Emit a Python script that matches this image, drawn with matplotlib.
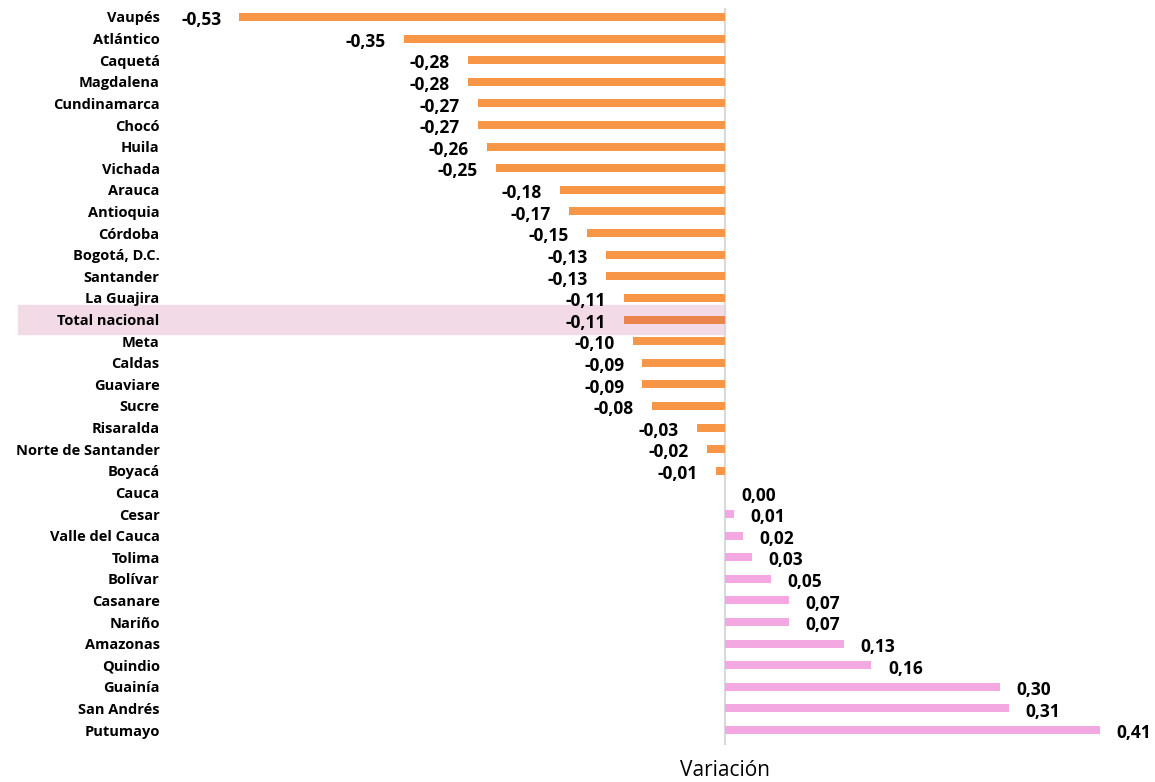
import numpy as np
import matplotlib.pyplot as plt

regiones = ["Vaupés", "Atlántico", "Caquetá", "Magdalena", "Cundinamarca", "Chocó",
            "Huila", "Vichada", "Arauca", "Antioquia", "Córdoba", "Bogotá, D.C.",
            "Santander", "La Guajira", "Total nacional", "Meta", "Caldas", "Guaviare",
            "Sucre", "Risaralda", "Norte de Santander", "Boyacá", "Cauca", "Cesar",
            "Valle del Cauca", "Tolima", "Bolívar", "Casanare", "Nariño", "Amazonas",
            "Quindio", "Guainía", "San Andrés", "Putumayo"]
variacion = [-0.53, -0.35, -0.28, -0.28, -0.27, -0.27, -0.26, -0.25, -0.18, -0.17,
             -0.15, -0.13, -0.13, -0.11, -0.11, -0.10, -0.09, -0.09, -0.08, -0.03,
             -0.02, -0.01, 0.00, 0.01, 0.02, 0.03, 0.05, 0.07, 0.07, 0.13, 0.16,
             0.30, 0.31, 0.41]

def main():
    plt.rcParams['font.family'] = ['Open Sans', 'DejaVu Sans']
    fig = plt.figure(figsize=(11.55, 7.82), dpi=100)
    ax = fig.add_axes([0.1455, 0.0473, 0.85, 0.9425])

    y = np.arange(len(regiones))
    colores = []
    for r, v in zip(regiones, variacion):
        if r == "Total nacional":
            colores.append("#EC8450")
        elif v < 0:
            colores.append("#F79646")
        else:
            colores.append("#F4A8E2")
    ax.barh(y, variacion, height=0.37, color=colores, zorder=3)

    # fila resaltada del total nacional
    i_tot = regiones.index("Total nacional")
    ax.add_patch(plt.Rectangle((-0.772, i_tot - 0.68), 0.772, 1.36, color="#F2DBE6",
                               zorder=1, clip_on=False))

    for yi, v in zip(y, variacion):
        txt = f"{v:.2f}".replace(".", ",")
        if v < 0:
            ax.text(v - 0.02, yi + 0.15, txt, ha="right", va="center",
                    fontsize=12.5, fontweight="bold", zorder=4)
        else:
            ax.text(v + 0.018, yi + 0.15, txt, ha="left", va="center",
                    fontsize=12.5, fontweight="bold", zorder=4)

    ax.set_xlim(-0.608, 0.464)
    ax.set_ylim(33.69, -0.417)
    ax.axvline(0, color="#D9D9D9", lw=1.5, zorder=2)
    ax.set_yticks(y)
    ax.set_yticklabels(regiones, fontsize=10.5, fontweight="bold")
    ax.tick_params(axis="y", length=0, pad=6)
    ax.set_xticks([])
    for s in ax.spines.values():
        s.set_visible(False)

    fig.text(0.628, 0.0153, "Variación", ha="center", va="center", fontsize=15)

    plt.savefig("out.png")


main()
